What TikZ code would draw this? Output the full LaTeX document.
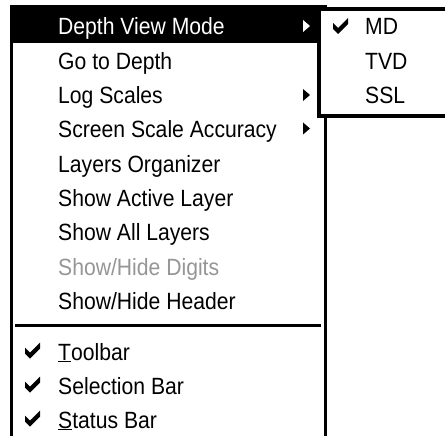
\documentclass[tikz,border=0pt]{standalone}
\usepackage{fontspec}
\setmainfont{Liberation Sans}[FakeStretch=0.9]
\begin{document}
\begin{tikzpicture}[x=1pt,y=-1pt,
  item/.style={anchor=base west,inner sep=0pt,font=\fontsize{23.5}{28}\selectfont},
  dis/.style={item,text={rgb,255:red,150;green,150;blue,150}},
  tri/.style={fill=black}]
\useasboundingbox (0,0) rectangle (445,436);
\clip (0,0) rectangle (445,436);
\fill[white] (0,0) rectangle (445,436);
% main menu
\filldraw[fill=white,line width=3pt] (11.5,7) rectangle (325,460);
\fill[black] (13,8.5) rectangle (318,43.5);
\node[item,text=white] (dvm) at (58,35) {Depth View Mode};
\node[item] (gtd) at (58,69.3) {Go to Depth};
\node[item] (ls) at (58,103.6) {Log Scales};
\node[item] (ssa) at (58,137.9) {Screen Scale Accuracy};
\node[item] (lo) at (58,172.2) {Layers Organizer};
\node[item] (sal) at (58,206.5) {Show Active Layer};
\node[item] (sall) at (58,240.8) {Show All Layers};
\node[dis] (shd) at (58,275.1) {Show/Hide Digits};
\node[item] (shh) at (58,309.4) {Show/Hide Header};
\draw[line width=3pt] (15,325) -- (321,325);
\node[item] (tb) at (58,360) {\underline{T}oolbar};
\node[item] (sb) at (58,394) {Selection Bar};
\node[item] (stb) at (58,428) {\underline{S}tatus Bar};
% submenu arrows
\fill[white] (303,20) -- (310,26) -- (303,32) -- cycle;
\fill[tri] (303,89) -- (310,95) -- (303,101) -- cycle;
\fill[tri] (303,122.5) -- (310,128.5) -- (303,134.5) -- cycle;
% checks main
\foreach \c in {352,386,420}{
  \fill (25,\c-4.5) -- (30,\c+0.5) -- (40,\c-9.5) -- (40,\c-3.5) -- (30,\c+6.5) -- (25,\c+1.5) -- cycle;
}
% submenu
\filldraw[fill=white,line width=4pt] (319,9.5) rectangle (470,116);
\fill (333,23) -- (338,28) -- (348,18) -- (348,24) -- (338,34) -- (333,29) -- cycle;
\node[item] (md) at (365,35) {MD};
\node[item] (tvd) at (365,69.3) {TVD};
\node[item] (ssl) at (365,103.6) {SSL};
\end{tikzpicture}
\end{document}
